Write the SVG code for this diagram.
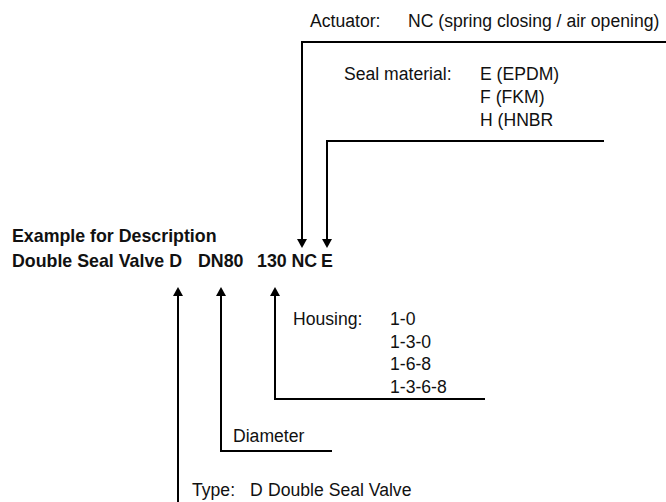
<svg xmlns="http://www.w3.org/2000/svg" width="666" height="502" viewBox="0 0 666 502">
<style>
text{font-family:"Liberation Sans",Arial,sans-serif;font-size:17.6px;fill:#111}
.b{font-weight:bold;font-size:17.8px}
.ln{fill:none;stroke:#000;stroke-width:2;marker-end:url(#ah)}
</style>
<defs>
<marker id="ah" viewBox="0 0 10 10" refX="0" refY="5" markerWidth="9" markerHeight="10" markerUnits="userSpaceOnUse" orient="auto" preserveAspectRatio="none">
<path d="M0,0 L10,5 L0,10 z" fill="#000"/>
</marker>
</defs>
<rect width="666" height="502" fill="#fff"/>
<g id="connectors">
<path class="ln" d="M666,42 H302 V239"/>
<path class="ln" d="M604,141 H327 V239"/>
<path class="ln" d="M485,399 H275 V296"/>
<path class="ln" d="M332,451 H221 V296"/>
<path class="ln" d="M178,502 V296"/>
</g>
<g id="title">
<text class="b" x="12" y="242">Example for Description</text>
</g>
<g id="code">
<text class="b" x="12" y="267">Double Seal Valve D</text>
<text class="b" x="198" y="267">DN80</text>
<text class="b" x="257" y="267">130</text>
<text class="b" x="291.5" y="267">NC</text>
<text class="b" x="321" y="267">E</text>
</g>
<g id="actuator">
<text x="310" y="27">Actuator:</text>
<text x="408" y="27">NC (spring closing / air opening)</text>
</g>
<g id="seal">
<text x="344" y="80">Seal material:</text>
<text x="480" y="80">E (EPDM)</text>
<text x="480" y="103">F (FKM)</text>
<text x="480" y="126">H (HNBR</text>
</g>
<g id="housing">
<text x="293" y="325">Housing:</text>
<text x="390" y="325">1-0</text>
<text x="390" y="348">1-3-0</text>
<text x="390" y="370">1-6-8</text>
<text x="390" y="393">1-3-6-8</text>
</g>
<g id="diameter">
<text x="233" y="442">Diameter</text>
</g>
<g id="type">
<text y="496"><tspan x="192">Type:</tspan><tspan x="250">D</tspan><tspan x="268">Double Seal Valve</tspan></text>
</g>
</svg>
